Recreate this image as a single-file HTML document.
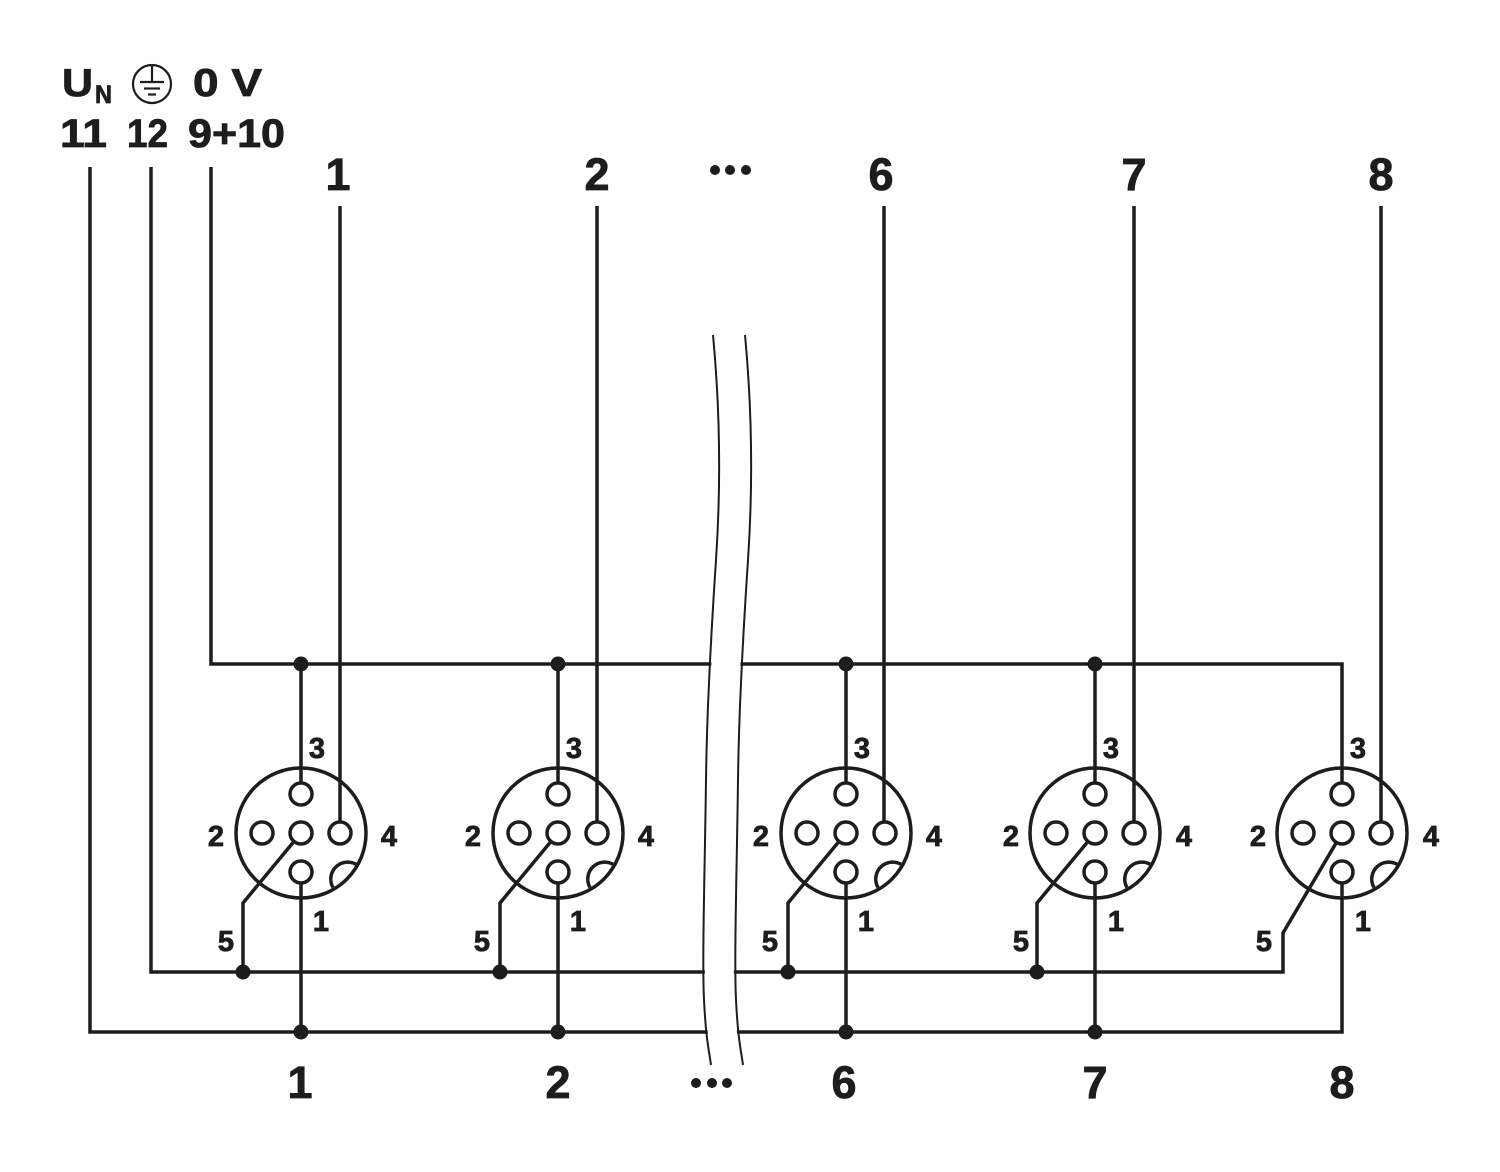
<!DOCTYPE html>
<html>
<head>
<meta charset="utf-8">
<style>
html,body{margin:0;padding:0;background:#fff;}
svg{display:block;}
text{font-family:"Liberation Sans",sans-serif;font-weight:bold;fill:#1d1d1b;stroke:#1d1d1b;stroke-width:0.8;}
</style>
</head>
<body>
<svg width="1500" height="1172" viewBox="0 0 1500 1172" xmlns="http://www.w3.org/2000/svg">
<g fill="none" stroke="#1d1d1b" stroke-width="3.5" stroke-linejoin="miter" stroke-linecap="butt">
  <!-- 9+10 bus -->
  <polyline points="211,167 211,664 1342,664 1342,783"/>
  <!-- 12 bus -->
  <polyline points="151,167 151,972 1283,972 1283,933 1335.6,843.8"/>
  <!-- 11 bus -->
  <polyline points="90,167 90,1032 1342,1032 1342,883"/>
  <!-- per-connector wires (1,2,6,7) -->
  <line x1="301" y1="664" x2="301" y2="783"/>
  <line x1="558" y1="664" x2="558" y2="783"/>
  <line x1="846" y1="664" x2="846" y2="783"/>
  <line x1="1095" y1="664" x2="1095" y2="783"/>

  <line x1="301" y1="883" x2="301" y2="1032"/>
  <line x1="558" y1="883" x2="558" y2="1032"/>
  <line x1="846" y1="883" x2="846" y2="1032"/>
  <line x1="1095" y1="883" x2="1095" y2="1032"/>

  <polyline points="243,972 243,903 293,842.6"/>
  <polyline points="500,972 500,903 550,842.6"/>
  <polyline points="788,972 788,903 838,842.6"/>
  <polyline points="1037,972 1037,903 1087,842.6"/>

  <!-- pin 4 wires from top -->
  <line x1="340" y1="206" x2="340" y2="822"/>
  <line x1="597" y1="206" x2="597" y2="822"/>
  <line x1="884" y1="206" x2="884" y2="822"/>
  <line x1="1134" y1="206" x2="1134" y2="822"/>
  <line x1="1381" y1="206" x2="1381" y2="822"/>
</g>

<!-- connectors -->
<defs>
  <g id="conn" fill="none" stroke="#1d1d1b" stroke-width="3.5">
    <circle cx="0" cy="0" r="65"/>
    <circle cx="0" cy="-39" r="11"/>
    <circle cx="-39" cy="0" r="11"/>
    <circle cx="0" cy="0" r="11"/>
    <circle cx="39" cy="0" r="11"/>
    <circle cx="0" cy="39" r="11"/>
    <path d="M32,54.5 A17,17 0 0 1 57,32.5"/>
  </g>
</defs>
<use href="#conn" x="301" y="833"/>
<use href="#conn" x="558" y="833"/>
<use href="#conn" x="846" y="833"/>
<use href="#conn" x="1095" y="833"/>
<use href="#conn" x="1342" y="833"/>

<!-- junction dots -->
<g fill="#1d1d1b">
  <circle cx="301" cy="664" r="7.5"/>
  <circle cx="558" cy="664" r="7.5"/>
  <circle cx="846" cy="664" r="7.5"/>
  <circle cx="1095" cy="664" r="7.5"/>
  <circle cx="243" cy="972" r="7.5"/>
  <circle cx="500" cy="972" r="7.5"/>
  <circle cx="788" cy="972" r="7.5"/>
  <circle cx="1037" cy="972" r="7.5"/>
  <circle cx="301" cy="1032" r="7.5"/>
  <circle cx="558" cy="1032" r="7.5"/>
  <circle cx="846" cy="1032" r="7.5"/>
  <circle cx="1095" cy="1032" r="7.5"/>
  <!-- ellipsis dots -->
  <circle cx="715" cy="170" r="5"/>
  <circle cx="730" cy="170" r="5"/>
  <circle cx="746" cy="170" r="5"/>
  <circle cx="696" cy="1083" r="5"/>
  <circle cx="712" cy="1083" r="5"/>
  <circle cx="727" cy="1083" r="5"/>
</g>

<!-- break lines -->
<path d="M729,335 C737,420 736,500 732,560 S723,700 722,780 S718,960 720,1000 S725,1050 727,1065" fill="none" stroke="#fff" stroke-width="29"/>
<g fill="none" stroke="#1d1d1b" stroke-width="2">
  <path d="M713,335 C721,420 720,500 716,560 S707,700 706,780 S702,960 704,1000 S709,1050 711,1065"/>
  <path d="M745,335 C753,420 752,500 748,560 S739,700 738,780 S734,960 736,1000 S741,1050 743,1065"/>
</g>

<!-- earth symbol -->
<g fill="none" stroke="#1d1d1b" stroke-width="2.2">
  <circle cx="152" cy="84" r="19"/>
  <line x1="152" y1="65" x2="152" y2="82"/>
  <line x1="140" y1="82" x2="164" y2="82"/>
  <line x1="144" y1="88.5" x2="160" y2="88.5"/>
  <line x1="148" y1="94.5" x2="156" y2="94.5"/>
</g>

<!-- header labels -->
<text x="62" y="96" font-size="39" textLength="31" lengthAdjust="spacingAndGlyphs">U</text>
<text x="95" y="103" font-size="25" textLength="17" lengthAdjust="spacingAndGlyphs">N</text>
<text x="193" y="96" font-size="39" textLength="69" lengthAdjust="spacingAndGlyphs">0 V</text>
<text x="60" y="147" font-size="40" textLength="47" lengthAdjust="spacingAndGlyphs">11</text>
<text x="127" y="147" font-size="40" textLength="41" lengthAdjust="spacingAndGlyphs">12</text>
<text x="188" y="147" font-size="40" textLength="97" lengthAdjust="spacingAndGlyphs">9+10</text>

<!-- top numbers -->
<g font-size="45" text-anchor="middle">
  <text x="338" y="190">1</text>
  <text x="597" y="190">2</text>
  <text x="881" y="190">6</text>
  <text x="1134" y="190">7</text>
  <text x="1381" y="190">8</text>
  <text x="300" y="1098">1</text>
  <text x="558" y="1098">2</text>
  <text x="844" y="1098">6</text>
  <text x="1095" y="1098">7</text>
  <text x="1342" y="1098">8</text>
</g>

<!-- pin labels -->
<g font-size="29" text-anchor="middle" style="stroke-width:0.6">
  <text x="317" y="758">3</text><text x="216" y="846">2</text><text x="389" y="846">4</text><text x="321" y="931">1</text><text x="226" y="951">5</text>
  <text x="574" y="758">3</text><text x="473" y="846">2</text><text x="646" y="846">4</text><text x="578" y="931">1</text><text x="482" y="951">5</text>
  <text x="862" y="758">3</text><text x="761" y="846">2</text><text x="934" y="846">4</text><text x="866" y="931">1</text><text x="770" y="951">5</text>
  <text x="1111" y="758">3</text><text x="1011" y="846">2</text><text x="1184" y="846">4</text><text x="1116" y="931">1</text><text x="1021" y="951">5</text>
  <text x="1358" y="758">3</text><text x="1258" y="846">2</text><text x="1431" y="846">4</text><text x="1363" y="931">1</text><text x="1264" y="951">5</text>
</g>
</svg>
</body>
</html>
